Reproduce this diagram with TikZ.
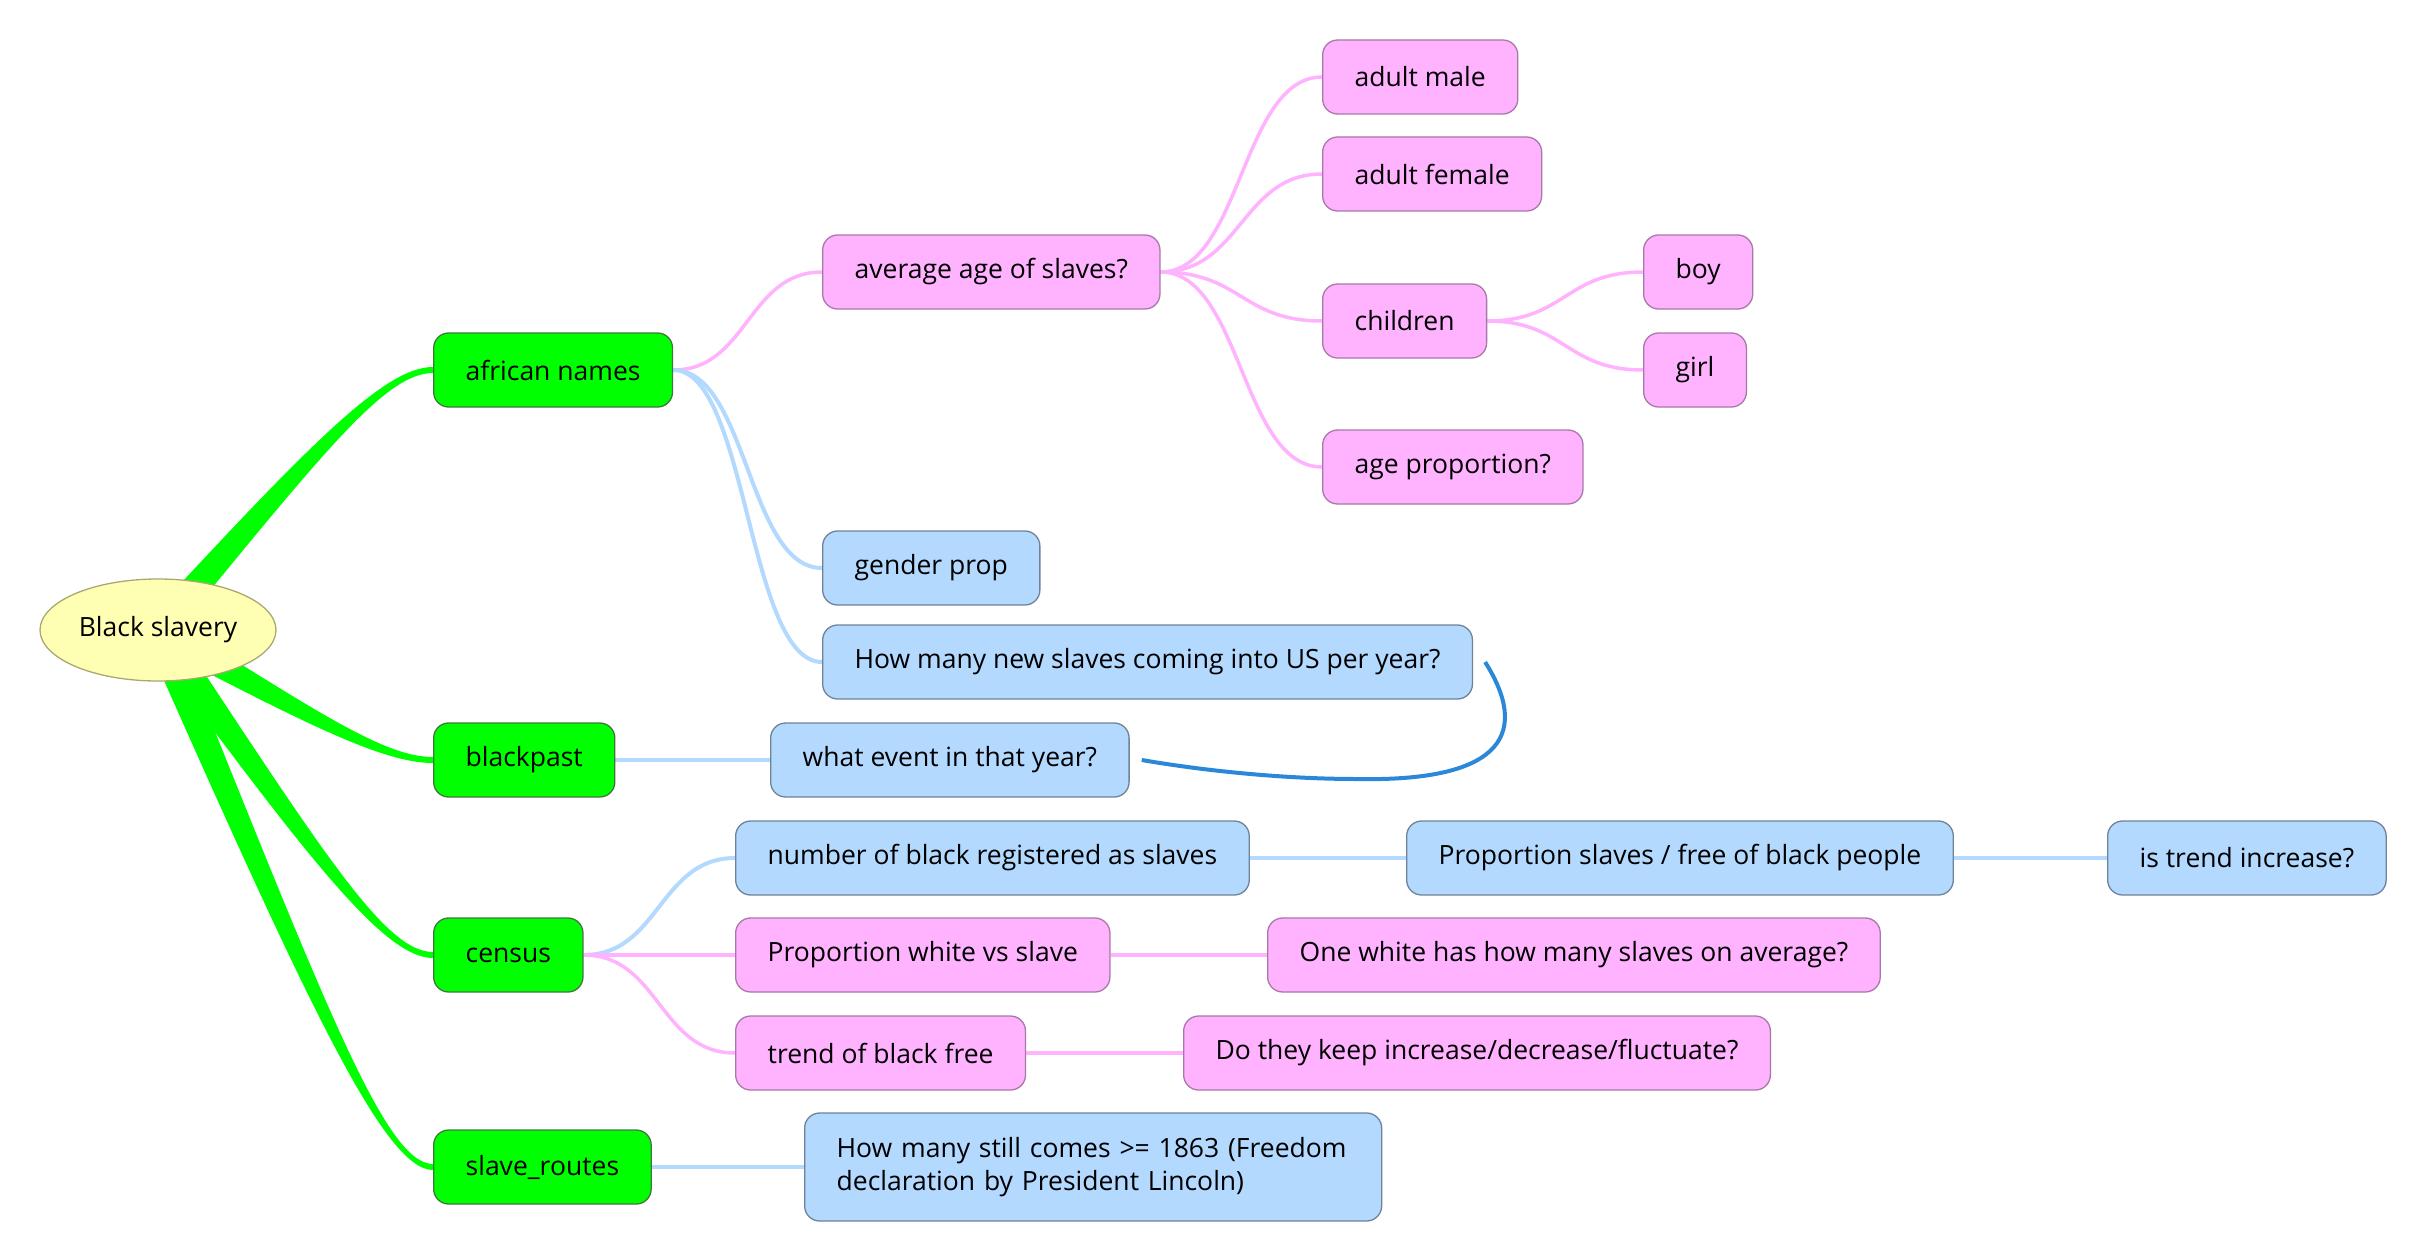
\documentclass[tikz,border=0pt]{standalone}
\usepackage{fontspec}
\setmainfont{Open Sans}
\usetikzlibrary{calc,shapes.geometric}
\definecolor{gfill}{HTML}{00FF00}
\definecolor{gdraw}{HTML}{3C7A3C}
\definecolor{bfill}{HTML}{B3D9FF}
\definecolor{bdraw}{HTML}{6E8299}
\definecolor{pfill}{HTML}{FFB3FF}
\definecolor{pdraw}{HTML}{A878A8}
\definecolor{yfill}{HTML}{FFFFB3}
\definecolor{ydraw}{HTML}{A8A870}
\definecolor{bline}{HTML}{B3D9FF}
\definecolor{pline}{HTML}{FFB3FF}
\definecolor{dline}{HTML}{2B88D8}
\pgfdeclarelayer{bg}
\pgfsetlayers{bg,main}
\newcommand\conn[3]{\draw[#1] (#2.east) .. controls ($(#2.east)!0.5!(#3.west |- #2.east)$) and ($(#3.west)!0.5!(#2.east |- #3.west)$) .. (#3.west);}
\newcommand\gbranch[1]{%
  \coordinate (E) at (#1.west);
  \coordinate (K) at (kx |- #1.west);
  \coordinate (C) at ($(S)!0.7!(K)$);
  \fill[gfill] ($(S)!15pt!90:(K)$) .. controls ($(C)!8pt!90:(K)$) and ($(K)+(0,-3)$) .. ($(E)+(0,-3)$)
     -- ($(E)+(0,3)$) .. controls ($(K)+(0,3)$) and ($(C)!8pt!-90:(K)$) .. ($(S)!15pt!-90:(K)$) -- cycle;}
\begin{document}
\begin{tikzpicture}[x=1pt,y=-1pt,
  every node/.style={font=\fontsize{26.5pt}{33pt}\selectfont, text=black},
  box/.style={rectangle, rounded corners=15pt, minimum height=74pt, inner xsep=32pt, inner ysep=0pt, line width=1.3pt, anchor=west},
  lone/.style={box, fill=gfill, draw=gdraw},
  bbox/.style={box, fill=bfill, draw=bdraw},
  pbox/.style={box, fill=pfill, draw=pdraw},
  bcon/.style={draw=bline, line width=4pt},
  pcon/.style={draw=pline, line width=3.5pt},
]
\useasboundingbox (0,0) rectangle (2425,1260);
\node[ellipse, fill=yfill, draw=ydraw, line width=1.3pt, minimum width=236pt, minimum height=102pt, inner sep=0pt] (root) at (158,630) {Black slavery};
% level 1
\node[lone] (african) at (433,370) {african names};
\node[lone] (blackpast) at (433,760) {blackpast};
\node[lone] (census) at (433,955) {census};
\node[lone] (routes) at (433,1167) {slave\_routes};
% level 2
\node[pbox] (avg) at (822,272) {average age of slaves?};
\node[bbox] (gender) at (822,568) {gender prop};
\node[bbox] (hownew) at (822,662) {How many new slaves coming into US per year?};
\node[bbox] (event) at (770,760) {what event in that year?};
\node[bbox] (number) at (735,858) {number of black registered as slaves};
\node[pbox] (pwhite) at (735,955) {Proportion white vs slave};
\node[pbox] (tfree) at (735,1053) {trend of black free};
\node[bbox, align=left, text width=513pt, minimum height=108pt] (still) at (804,1167) {How many still comes >= 1863 (Freedom\\declaration by President Lincoln)};
% level 3
\node[pbox] (male) at (1322,77) {adult male};
\node[pbox] (female) at (1322,174) {adult female};
\node[pbox] (children) at (1322,321) {children};
\node[pbox] (ageprop) at (1322,467) {age proportion?};
\node[bbox] (pslaves) at (1406,858) {Proportion slaves / free of black people};
\node[pbox] (onewhite) at (1267,955) {One white has how many slaves on average?};
\node[pbox] (dothey) at (1183,1053) {Do they keep increase/decrease/fluctuate?};
% level 4
\node[pbox] (boy) at (1643,272) {boy};
\node[pbox] (girl) at (1643,370) {girl};
\node[bbox] (trend) at (2107,858) {is trend increase?};
\begin{pgfonlayer}{bg}
\coordinate (S) at (root.center);
\coordinate (kx) at (385,0);
\gbranch{african}
\gbranch{blackpast}
\gbranch{census}
\gbranch{routes}
\conn{pcon}{african}{avg}
\conn{bcon}{african}{gender}
\conn{bcon}{african}{hownew}
\conn{pcon}{avg}{male}
\conn{pcon}{avg}{female}
\conn{pcon}{avg}{children}
\conn{pcon}{avg}{ageprop}
\conn{pcon}{children}{boy}
\conn{pcon}{children}{girl}
\conn{bcon}{blackpast}{event}
\conn{bcon}{census}{number}
\conn{pcon}{census}{pwhite}
\conn{pcon}{census}{tfree}
\conn{bcon}{number}{pslaves}
\conn{bcon}{pslaves}{trend}
\conn{pcon}{pwhite}{onewhite}
\conn{pcon}{tfree}{dothey}
\conn{bcon}{routes}{still}
\end{pgfonlayer}
\draw[dline, line width=4pt] ($(hownew.east)+(12,0)$) .. controls ($(hownew.east)+(55,68)$) and ($(hownew.east)+(35,120)$) .. ($(hownew.east)+(-116,117)$) .. controls ($(event.east)+(150,19)$) and ($(event.east)+(70,10)$) .. ($(event.east)+(12,0)$);
\end{tikzpicture}
\end{document}
